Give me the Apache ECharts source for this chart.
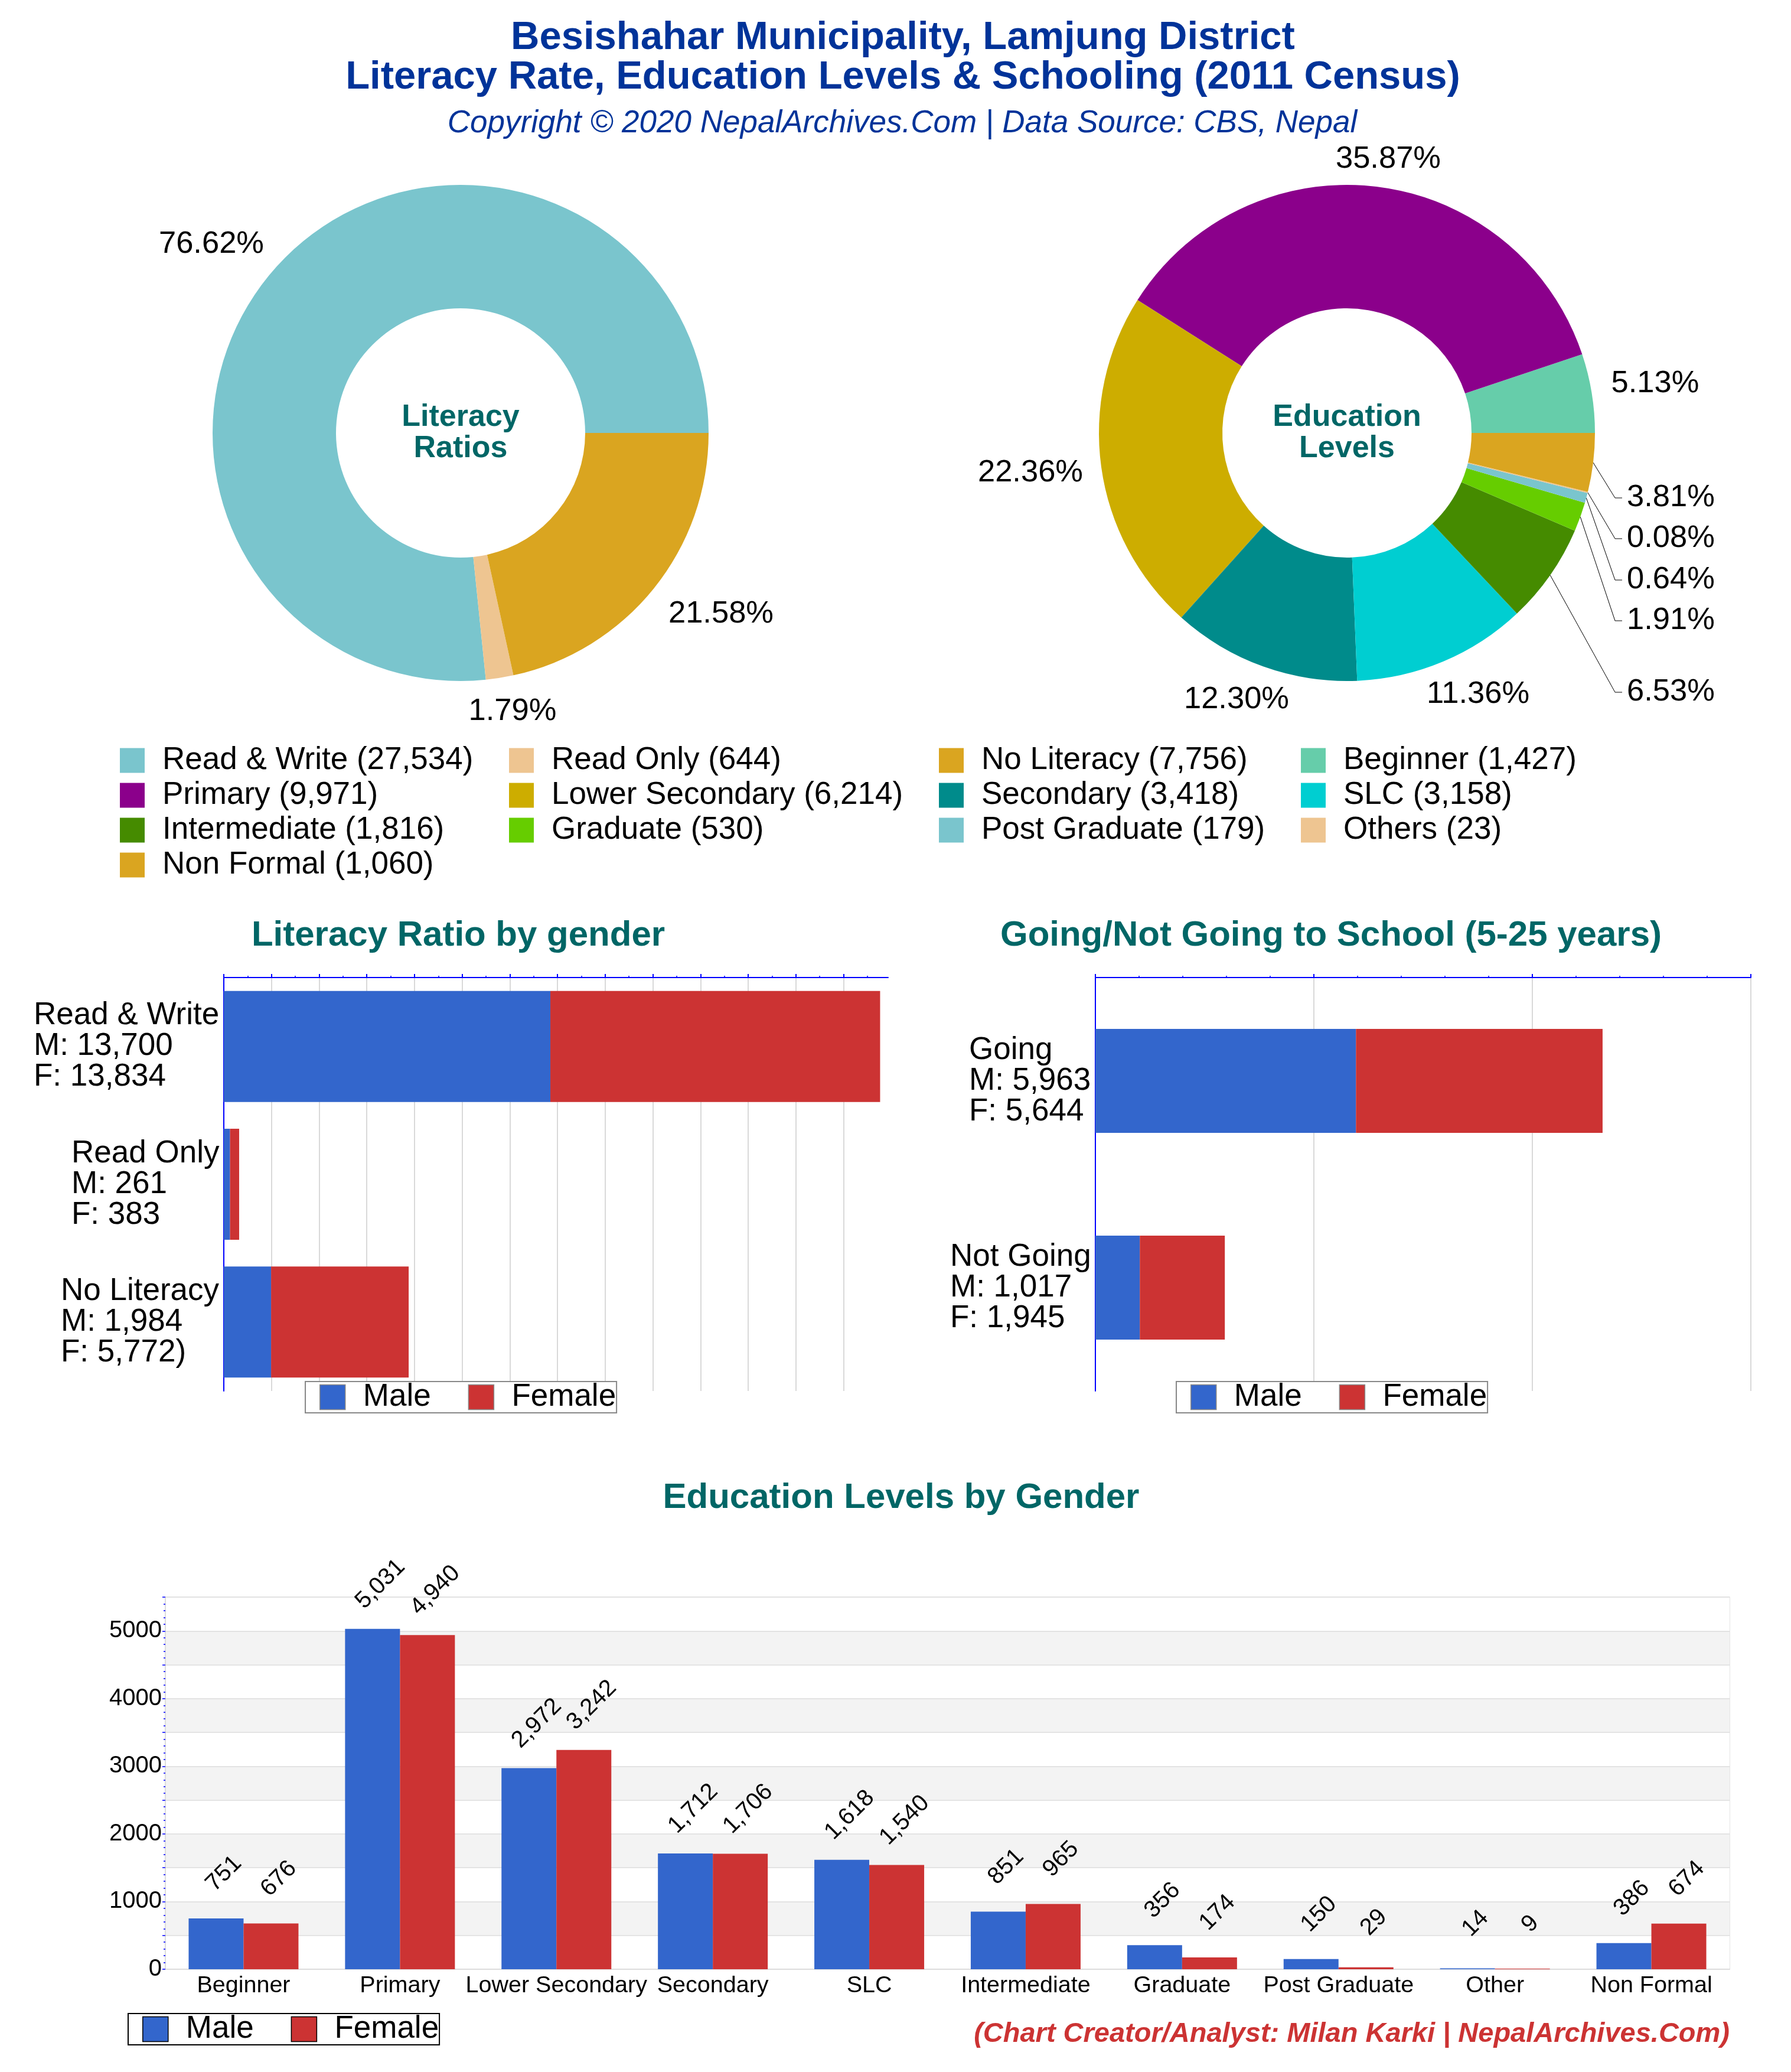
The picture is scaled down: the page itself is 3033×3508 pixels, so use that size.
<!DOCTYPE html>
<html>
<head>
<meta charset="utf-8">
<title>Literacy Rate, Education Levels & Schooling</title>
<script src="https://cdn.jsdelivr.net/npm/echarts@6/dist/echarts.min.js"></script>
<style>
html,body{margin:0;padding:0;background:#fff;}
#main{width:3033px;height:3508px;}
</style>
</head>
<body>
<div id="main"></div>
<script>
var literacy_names = ['Read & Write', 'Read Only', 'No Literacy'];
var literacy_values = [27534, 644, 7756];
var literacy_colors = ['#7AC5CD', '#EEC591', '#DAA520'];

var education_names = ['Beginner', 'Primary', 'Lower Secondary', 'Secondary', 'SLC', 'Intermediate', 'Graduate', 'Post Graduate', 'Others', 'Non Formal'];
var education_values = [1427, 9971, 6214, 3418, 3158, 1816, 530, 179, 23, 1060];
var education_colors = ['#66CDAA', '#8B008B', '#CDAD00', '#008B8B', '#00CED1', '#458B00', '#66CD00', '#7AC5CD', '#EEC591', '#DAA520'];

var literacy_gender_labels = ['Read & Write\nM: 13,700\nF: 13,834', 'Read Only\nM: 261\nF: 383', 'No Literacy\nM: 1,984\nF: 5,772)'];
var literacy_male = [13700, 261, 1984];
var literacy_female = [13834, 383, 5772];
var literacy_ticks = [0, 2000, 4000, 6000, 8000, 10000, 12000, 14000, 16000, 18000, 20000, 22000, 24000, 26000];

var school_labels = ['Going\nM: 5,963\nF: 5,644', 'Not Going\nM: 1,017\nF: 1,945'];
var school_male = [5963, 1017];
var school_female = [5644, 1945];

var level_names = ['Beginner', 'Primary', 'Lower Secondary', 'Secondary', 'SLC', 'Intermediate', 'Graduate', 'Post Graduate', 'Other', 'Non Formal'];
var level_male = [751, 5031, 2972, 1712, 1618, 851, 356, 150, 14, 386];
var level_female = [676, 4940, 3242, 1706, 1540, 965, 174, 29, 9, 674];

var font = '"Liberation Sans", Arial, sans-serif';
var blue = '#0000FF';
var male_color = '#3366CC';
var female_color = '#CC3333';
var teal = '#006666';

function fmt(n){
	return n.toLocaleString('en-US');
}

function legend_name(names, values, i){
	return names[i] + ' (' + fmt(values[i]) + ')';
}

function sum(list){
	return list.reduce(function(a, b){ return a + b; }, 0);
}

function pie_data(names, values, colors){
	return names.map(function(n, i){
		return {name: legend_name(names, values, i), value: values[i], itemStyle: {color: colors[i]}};
	});
}

// label centres, by slice
var literacy_label_pos = [[358, 414], [868, 1205], [1221, 1040]];
var education_label_pos = {0: [2803, 650], 1: [2351, 270], 2: [1745, 801], 3: [2094, 1185], 4: [2503, 1176]};
var education_leader_pos = {9: 843, 8: 912, 7: 982, 6: 1051, 5: 1172};

function pie_series(center, data, values, layout){
	var total = sum(values);
	return {
		type: 'pie',
		center: center,
		radius: [211, 420],
		startAngle: 0,
		clockwise: false,
		avoidLabelOverlap: false,
		silent: true,
		animation: false,
		data: data,
		label: {
			color: '#000',
			fontFamily: font,
			fontSize: 52.5,
			formatter: function(p){
				return (p.value / total * 100).toFixed(2) + '%';
			}
		},
		labelLine: {show: true, lineStyle: {color: '#000', width: 1}},
		labelLayout: layout
	};
}

function literacy_layout(p){
	var pos = literacy_label_pos[p.dataIndex];
	return {x: pos[0], y: pos[1], align: 'center', verticalAlign: 'middle', labelLinePoints: [[0, 0], [0, 0], [0, 0]]};
}

function education_layout(p){
	var pos = education_label_pos[p.dataIndex];
	if(pos){
		return {x: pos[0], y: pos[1], align: 'center', verticalAlign: 'middle', labelLinePoints: [[0, 0], [0, 0], [0, 0]]};
	}
	var y = education_leader_pos[p.dataIndex];
	var start = p.labelLinePoints ? p.labelLinePoints[0] : [2697, y];
	return {
		x: 2755, y: y, align: 'left', verticalAlign: 'middle',
		labelLinePoints: [start, [2735, y], [2747, y]]
	};
}

function text_width(text, size){
	var ctx = document.createElement('canvas').getContext('2d');
	ctx.font = size + 'px ' + font;
	return Math.ceil(ctx.measureText(text).width);
}

// right hand block against the axis, left aligned lines inside it
function block_label(labels, size){
	var rich = {};
	labels.forEach(function(label, i){
		var widest = 0;
		label.split('\n').forEach(function(line){
			widest = Math.max(widest, text_width(line, size));
		});
		rich['c' + i] = {width: widest, align: 'left', fontSize: size, lineHeight: 52, fontFamily: font, color: '#000'};
	});
	return {
		show: true,
		interval: 0,
		align: 'right',
		margin: 7,
		rich: rich,
		formatter: function(value, index){
			return value.split('\n').map(function(line){
				return '{c' + index + '|' + line + '}';
			}).join('\n');
		}
	};
}

function top_axis(index, max, interval, minor, ticks){
	return {
		type: 'value',
		gridIndex: index,
		position: 'top',
		min: 0,
		max: max,
		interval: interval,
		axisLine: {show: true, onZero: false, lineStyle: {color: blue, width: 2}},
		axisTick: {show: true, length: 6, customValues: ticks, lineStyle: {color: blue, width: 2}},
		minorTick: {show: true, splitNumber: minor, length: 3, lineStyle: {color: blue, width: 1.5}},
		axisLabel: {show: false},
		splitLine: {show: true, lineStyle: {color: '#cccccc', width: 1.5}}
	};
}

function left_axis(index, labels){
	return {
		type: 'category',
		gridIndex: index,
		inverse: true,
		data: labels,
		axisLine: {show: true, onZero: false, lineStyle: {color: blue, width: 2}},
		axisTick: {show: false},
		axisLabel: block_label(labels, 53)
	};
}

function stacked(name, index, data, color, width){
	return {
		type: 'bar',
		name: name,
		stack: 'g' + index,
		xAxisIndex: index,
		yAxisIndex: index,
		data: data,
		barWidth: width,
		silent: true,
		animation: false,
		itemStyle: {color: color}
	};
}

function level_series(name, data, color, offset){
	return {
		type: 'bar',
		name: name,
		xAxisIndex: 2,
		yAxisIndex: 2,
		data: data,
		barWidth: 93,
		barGap: 0,
		silent: true,
		animation: false,
		itemStyle: {color: color},
		label: {
			show: true,
			position: 'top',
			distance: 0,
			rotate: 45,
			align: 'center',
			verticalAlign: 'middle',
			offset: offset,
			color: '#000',
			fontFamily: font,
			fontSize: 40,
			formatter: function(p){
				return fmt(p.value);
			}
		}
	};
}

function gender_legend(left, top, border){
	return {
		data: ['Male', 'Female'],
		left: left,
		top: top,
		orient: 'horizontal',
		selectedMode: false,
		icon: 'rect',
		itemWidth: 43,
		itemHeight: 42,
		itemGap: 63,
		padding: [0, 1, 0, 24],
		backgroundColor: '#fff',
		borderColor: border,
		borderWidth: 2,
		itemStyle: {borderColor: border, borderWidth: 1.5},
		textStyle: {color: '#000', fontFamily: font, fontSize: 53, lineHeight: 42, padding: [0, 0, 0, 25]}
	};
}

function pie_legend(left, items){
	return {
		data: items,
		left: left,
		top: 1261,
		orient: 'vertical',
		selectedMode: false,
		icon: 'rect',
		itemWidth: 42,
		itemHeight: 42,
		itemGap: 6,
		padding: 0,
		textStyle: {color: '#000', fontFamily: font, fontSize: 53, lineHeight: 42, padding: [0, 0, 0, 25]}
	};
}

function heading(text, x, y, size, color, extra){
	var style = {color: color, fontFamily: font, fontSize: size, fontWeight: 'bold', lineHeight: size * 1.05};
	for(var k in extra){ style[k] = extra[k]; }
	return {text: text, left: x, top: y, textAlign: extra && extra.anchor ? extra.anchor : 'center', padding: 0, textStyle: style};
}

function lit(i){ return legend_name(literacy_names, literacy_values, i); }
function edu(i){ return legend_name(education_names, education_values, i); }

var chart = echarts.init(document.getElementById('main'));
var option = {
	backgroundColor: '#fff',
	animation: false,
	title: [
		heading('Besishahar Municipality, Lamjung District\nLiteracy Rate, Education Levels & Schooling (2011 Census)', 1529, 31, 67, '#003399', {lineHeight: 67}),
		heading('Copyright © 2020 NepalArchives.Com | Data Source: CBS, Nepal', 1528, 181, 53, '#003399', {fontWeight: 'normal', fontStyle: 'italic'}),
		heading('Literacy\nRatios', 780, 680, 52, teal, {lineHeight: 53}),
		heading('Education\nLevels', 2281, 680, 52, teal, {lineHeight: 53}),
		heading('Literacy Ratio by gender', 776, 1553, 60, teal),
		heading('Going/Not Going to School (5-25 years)', 2254, 1553, 60, teal),
		heading('Education Levels by Gender', 1526, 2505, 60, teal),
		heading('(Chart Creator/Analyst: Milan Karki | NepalArchives.Com)', 2929, 3419, 47, female_color, {fontStyle: 'italic', anchor: 'right'})
	],
	legend: [
		pie_legend(203, [lit(0), edu(1), edu(5), edu(9)]),
		pie_legend(862, [lit(1), edu(2), edu(6)]),
		pie_legend(1590, [lit(2), edu(3), edu(7)]),
		pie_legend(2203, [edu(0), edu(4), edu(8)]),
		gender_legend(517, 2339, '#888888'),
		gender_legend(1992, 2339, '#888888'),
		gender_legend(217, 3409, '#000000')
	],
	grid: [
		{left: 379, top: 1655, width: 1125, height: 700},
		{left: 1855, top: 1655, width: 1110, height: 700},
		{left: 280, top: 2704, width: 2649, height: 630, show: true, borderColor: '#dddddd', borderWidth: 1.5}
	],
	xAxis: [
		top_axis(0, 27870, 2000, 2, literacy_ticks),
		top_axis(1, 15000, 5000, 5),
		{
			type: 'category',
			gridIndex: 2,
			data: level_names,
			axisLine: {show: true, lineStyle: {color: '#dddddd', width: 2}},
			axisTick: {show: false},
			axisLabel: {show: true, interval: 0, margin: 8, color: '#000', fontFamily: font, fontSize: 39.5}
		}
	],
	yAxis: [
		left_axis(0, literacy_gender_labels),
		left_axis(1, school_labels),
		{
			type: 'value',
			gridIndex: 2,
			min: 0,
			max: 5500,
			interval: 500,
			axisLine: {show: true, lineStyle: {color: '#dddddd', width: 2}},
			axisTick: {show: true, length: 5, lineStyle: {color: blue, width: 1.5}},
			minorTick: {show: true, splitNumber: 5, length: 3, lineStyle: {color: blue, width: 1.5}},
			axisLabel: {
				show: true,
				margin: 6,
				color: '#000',
				fontFamily: font,
				fontSize: 40,
				formatter: function(v){
					return v % 1000 == 0 ? String(v) : '';
				}
			},
			splitLine: {show: true, lineStyle: {color: '#dddddd', width: 1.5}},
			splitArea: {show: true, areaStyle: {color: ['#ffffff', '#f3f3f3']}}
		}
	],
	series: [
		pie_series([780, 733], pie_data(literacy_names, literacy_values, literacy_colors), literacy_values, literacy_layout),
		pie_series([2281, 733], pie_data(education_names, education_values, education_colors), education_values, education_layout),
		stacked('Male', 0, literacy_male, male_color, 188),
		stacked('Female', 0, literacy_female, female_color, 188),
		stacked('Male', 1, school_male, male_color, 176),
		stacked('Female', 1, school_female, female_color, 176),
		level_series('Male', level_male, male_color, [63, -44]),
		level_series('Female', level_female, female_color, [63, -44])
	]
};
chart.setOption(option);
</script>
</body>
</html>
